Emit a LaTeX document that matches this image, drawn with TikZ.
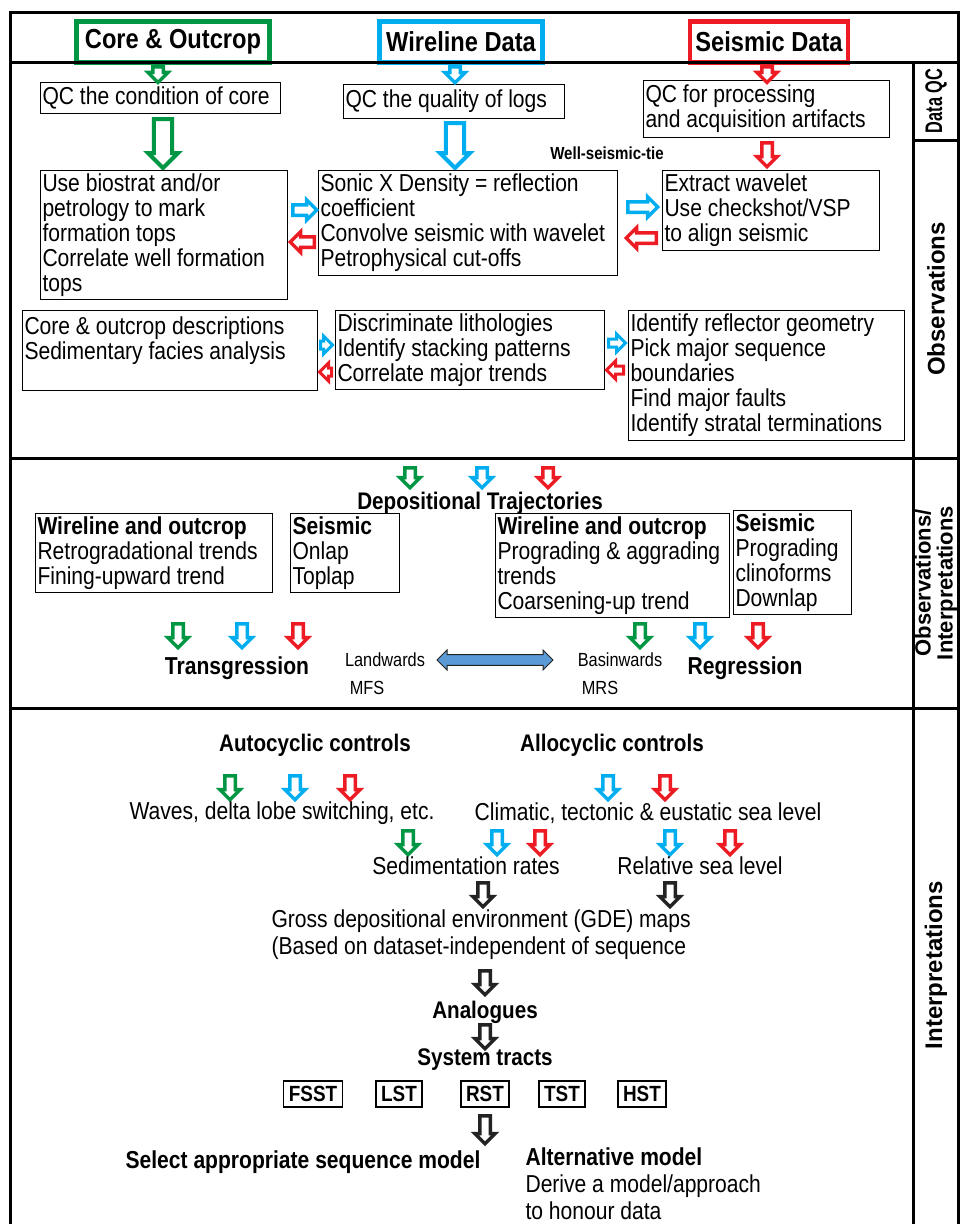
\documentclass[tikz,border=0pt]{standalone}
\usepackage{fontspec}
\setmainfont{Liberation Sans}[FakeStretch=0.86]
\newfontfamily\sidefamily{Liberation Sans}
\usetikzlibrary{shapes.arrows}

\definecolor{cgreen}{RGB}{0,150,68}
\definecolor{cblue}{RGB}{0,174,239}
\definecolor{cred}{RGB}{237,28,36}
\definecolor{cblack}{RGB}{35,35,35}
\definecolor{csteel}{RGB}{91,155,213}

\newcommand\fntbody{\fontsize{24.5}{25}\selectfont}
\newcommand\fnthead{\bfseries\fontsize{27.5}{28}\selectfont}
\newcommand\fnttitle{\bfseries\fontsize{24}{25}\selectfont}
\newcommand\fntsmall{\fontsize{19}{21}\selectfont}
\newcommand\fnttie{\bfseries\fontsize{17.5}{18}\selectfont}
\newcommand\fnttract{\bfseries\fontsize{22}{22}\selectfont}
\newcommand\fntside{\sidefamily\bfseries\fontsize{24}{24}\selectfont}
\newcommand\fntsidetwo{\sidefamily\bfseries\fontsize{22}{22}\selectfont}

\tikzset{
  tbox/.style={draw, line width=1pt, anchor=north west, align=flush left,
    inner xsep=2pt, inner ysep=3pt, text width=#1, font=\fntbody},
  hbox/.style={draw=#1, line width=4.5pt, inner sep=0pt, font=\fnthead},
  trbox/.style={draw, line width=1.3pt, inner xsep=5pt, inner ysep=4pt,
    minimum height=26pt, font=\fnttract},
  dn/.style={single arrow, draw=#1, fill=white, line width=3.5pt,
    inner sep=3.5pt, minimum width=20pt, minimum height=24pt,
    single arrow head extend=5pt, shape border rotate=270, anchor=tail},
  bigdn/.style={dn=#1, line width=4pt, inner sep=6pt, minimum width=30pt},
  rt/.style={single arrow, draw=#1, fill=white, line width=3.5pt,
    inner sep=3.5pt, minimum width=20pt, minimum height=24pt,
    single arrow head extend=5pt, anchor=tail},
  lt/.style={rt=#1, shape border rotate=180},
  smrt/.style={rt=#1, line width=3pt, inner sep=2.5pt, minimum width=15pt},
  smlt/.style={smrt=#1, shape border rotate=180},
}

\begin{document}
\begin{tikzpicture}[x=1pt, y=-1pt]
  \useasboundingbox (0,0) rectangle (968,1224);
  \fill[white] (0,0) rectangle (968,1224);

  % data sources
  \node[hbox=cgreen, minimum width=193pt, minimum height=41pt] (hcore) at (173,42) {Core \& Outcrop};
  \node[hbox=cblue, minimum width=163pt, minimum height=41pt] (hwire) at (461,42) {Wireline Data};
  \node[hbox=cred, minimum width=158pt, minimum height=41pt] (hseis) at (769,42) {Seismic Data};

  % frame
  \draw[line width=3pt] (10,1224) -- (10,12) -- (958,12) -- (958,1224);
  \foreach \y in {62, 458, 708}{
    \draw[line width=3pt] (10,\y) -- (958,\y);
  }
  \draw[line width=3pt] (913,62) -- (913,1224) (913,140) -- (958,140);

  % side labels
  \node[font=\fntside, rotate=90] (lqc) at (936,101) {\scalebox{0.68}[1]{Data QC}};
  \node[font=\fntside, rotate=90] (lobs) at (936,299) {Observations};
  \node[font=\fntsidetwo, rotate=90, align=center] (lobsint) at (936,583) {Observations/\\Interpretations};
  \node[font=\fntside, rotate=90] (lint) at (936,965) {Interpretations};

  % data QC
  \node[tbox=236pt, minimum height=31pt] (qccore) at (40,82) {QC the condition of core};
  \node[tbox=217pt, minimum height=34pt] (qclogs) at (343,84) {QC the quality of logs};
  \node[tbox=242pt, minimum height=57pt] (qcseis) at (643,80) {QC for processing\\and acquisition artifacts};
  \node[dn=cgreen, minimum height=14pt] (acore) at (158,65) {};
  \node[dn=cblue, minimum height=16pt] (awire) at (455,65) {};
  \node[dn=cred, minimum height=12pt] (aseis) at (767,65) {};
  \node[bigdn=cgreen, minimum height=49pt] (bcore) at (163,117) {};
  \node[bigdn=cblue, minimum height=45pt] (bwire) at (455,121) {};
  \node[dn=cred, minimum height=24pt] (bseis) at (767,141) {};
  \node[font=\fnttie] (tie) at (607,153) {Well-seismic-tie};

  % observations
  \node[tbox=243pt, minimum height=128pt] (biostrat) at (40,170) {Use biostrat and/or\\petrology to mark\\formation tops\\Correlate well formation\\tops};
  \node[tbox=295pt, minimum height=105pt] (sonic) at (318,170) {Sonic X Density = reflection\\coefficient\\Convolve seismic with wavelet\\Petrophysical cut-offs};
  \node[tbox=213pt, minimum height=80pt] (wavelet) at (662,170) {Extract wavelet\\Use checkshot/VSP\\to align seismic};
  \node[rt=cblue] (ar1) at (291,210) {};
  \node[lt=cred] (al1) at (316,242) {};
  \node[rt=cblue, minimum height=30pt] (ar2) at (626,207) {};
  \node[lt=cred, minimum height=30pt] (al2) at (658,238) {};

  \node[tbox=291pt, minimum height=80pt] (facies) at (22,310) {Core \& outcrop descriptions\\Sedimentary facies analysis\\~};
  \node[tbox=265pt, minimum height=78pt] (litho) at (335,310) {Discriminate lithologies\\Identify stacking patterns\\Correlate major trends};
  \node[tbox=272pt, minimum height=130pt] (reflect) at (628,310) {Identify reflector geometry\\Pick major sequence\\boundaries\\Find major faults\\Identify stratal terminations};
  \node[smrt=cblue, minimum height=12pt] (sr1) at (319,345) {};
  \node[smlt=cred, minimum height=12pt] (sl1) at (333,372) {};
  \node[smrt=cblue, minimum height=17pt] (sr2) at (607,343) {};
  \node[smlt=cred, minimum height=17pt] (sl2) at (625,370) {};

  % observations / interpretations
  \foreach \x/\c in {410/cgreen, 482/cblue, 548/cred}{
    \node[dn=\c, minimum height=20pt] (t\x) at (\x,466) {};
  }
  \node[font=\fnttitle] (deptraj) at (480,503) {Depositional Trajectories};
  \node[tbox=233pt, minimum height=77pt] (wotrans) at (35,513) {\textbf{Wireline and outcrop}\\Retrogradational trends\\Fining-upward trend};
  \node[tbox=105pt, minimum height=77pt] (seistrans) at (290,513) {\textbf{Seismic}\\Onlap\\Toplap};
  \node[tbox=230pt, minimum height=99pt] (woreg) at (495,513) {\textbf{Wireline and outcrop}\\Prograding \& aggrading\\trends\\Coarsening-up trend};
  \node[tbox=114pt, minimum height=92pt] (seisreg) at (733,510) {\textbf{Seismic}\\Prograding\\clinoforms\\Downlap};
  \foreach \x/\c in {178/cgreen, 242/cblue, 298/cred, 640/cgreen, 700/cblue, 758/cred}{
    \node[dn=\c] (t\x) at (\x,622) {};
  }
  \node[font=\fntbody\bfseries] (transg) at (237,668) {Transgression};
  \node[font=\fntsmall] (landw) at (385,660) {Landwards};
  \node[font=\fntsmall] (mfs) at (367,688) {MFS};
  \node[double arrow, draw=cblack, fill=csteel, line width=1pt, inner sep=4pt,
    minimum height=116pt, minimum width=20pt, double arrow head extend=4pt] (shift) at (495,660) {};
  \node[font=\fntsmall] (basinw) at (620,660) {Basinwards};
  \node[font=\fntsmall] (mrs) at (600,688) {MRS};
  \node[font=\fntbody\bfseries] (regr) at (745,668) {Regression};

  % interpretations
  \node[font=\fnttitle] (auto) at (315,745) {Autocyclic controls};
  \node[font=\fnttitle] (allo) at (612,745) {Allocyclic controls};
  \foreach \x/\c in {230/cgreen, 295/cblue, 350/cred, 608/cblue, 665/cred}{
    \node[dn=\c] (u\x) at (\x,774) {};
  }
  \node[font=\fntbody] (waves) at (282,813) {Waves, delta lobe switching, etc.};
  \node[font=\fntbody] (climate) at (648,813) {Climatic, tectonic \& eustatic sea level};
  \foreach \x/\c in {408/cgreen, 497/cblue, 540/cred, 670/cblue, 730/cred}{
    \node[dn=\c] (v\x) at (\x,829) {};
  }
  \node[font=\fntbody] (sedrate) at (466,866) {Sedimentation rates};
  \node[font=\fntbody] (relsea) at (700,866) {Relative sea level};
  \foreach \x in {483, 670}{
    \node[dn=cblack] (w\x) at (\x,881) {};
  }
  \node[font=\fntbody, align=left, anchor=west] (gde) at (268,935) {Gross depositional environment (GDE) maps\\[2pt](Based on dataset-independent of sequence};
  \node[dn=cblack] (agde) at (485,969) {};
  \node[font=\fnttitle] (analog) at (485,1012) {Analogues};
  \node[dn=cblack] (aanalog) at (485,1023) {};
  \node[font=\fnttitle] (systr) at (485,1060) {System tracts};
  \foreach \n/\x in {FSST/313, LST/399, RST/485, TST/562, HST/642}{
    \node[trbox] (\n) at (\x,1094) {\n};
  }
  \node[dn=cblack, minimum height=28pt] (atract) at (485,1114) {};
  \node[font=\fntbody\bfseries] (select) at (303,1162) {Select appropriate sequence model};
  \node[font=\fntbody, align=left, anchor=north west] (altmod) at (522,1144) {\textbf{Alternative model}\\[2pt]Derive a model/approach\\[2pt]to honour data};
\end{tikzpicture}
\end{document}
